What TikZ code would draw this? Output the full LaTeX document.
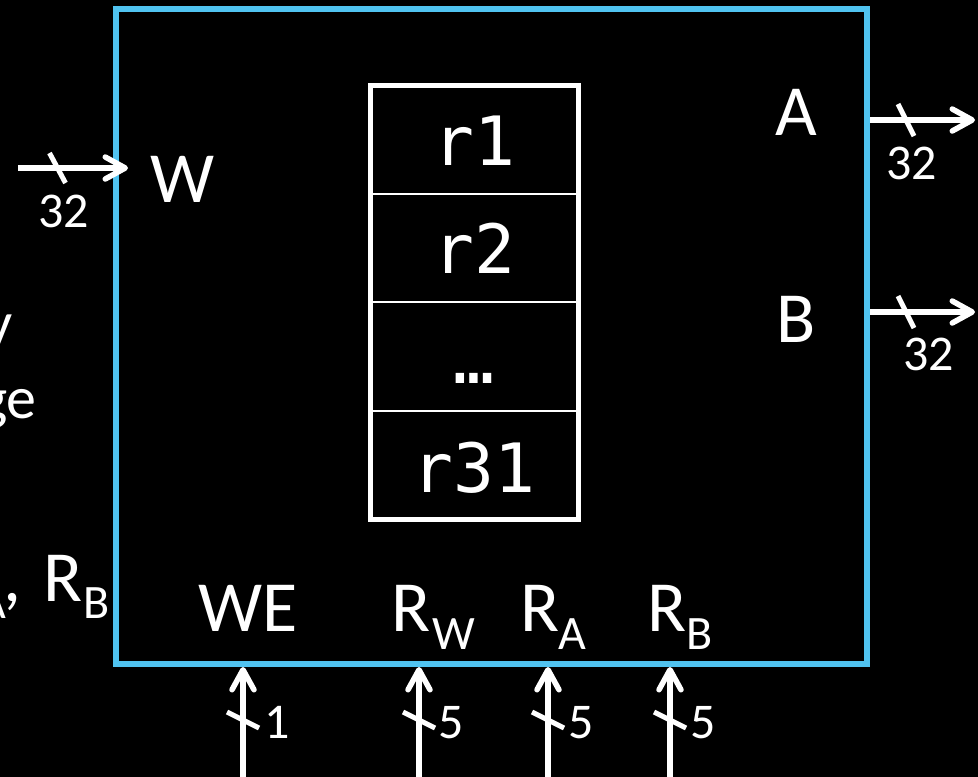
\documentclass[tikz,border=0pt]{standalone}
\usepackage{fontspec}
\setmainfont{Carlito}
\newfontfamily\regmono{DejaVu Sans Mono}
\usetikzlibrary{arrows.meta}
\definecolor{boxcyan}{RGB}{80,195,240}
\begin{document}
\begin{tikzpicture}[x=1pt,y=-1pt,
  lbl/.style={text=white,inner sep=0,font=\fontsize{72}{80}\selectfont},
  sublbl/.style={text=white,inner sep=0,font=\fontsize{48}{56}\selectfont},
  bodytxt/.style={text=white,inner sep=0,font=\fontsize{60}{66}\selectfont},
  num/.style={text=white,inner sep=0,font=\fontsize{50}{56}\selectfont},
  regtxt/.style={text=white,inner sep=0,font=\regmono\fontsize{68}{74}\selectfont},
  cell/.style={draw=white,line width=2,minimum width=208,minimum height=108.625,inner sep=0},
  sig/.style={draw=white,line width=5.5,-{Straight Barb[length=20pt,width=22pt,round]}},
  busmark/.style={draw=white,line width=5},
]
\useasboundingbox (0,0) rectangle (978,777);
\fill[black] (0,0) rectangle (978,777);
\clip (0,0) rectangle (978,777);

% partial slide text on the left
\node[bodytxt,anchor=base east] (fragY) at (13,343) {y};
\node[bodytxt,anchor=base east] (fragGe) at (37,418) {ge};
\node[sublbl,anchor=base east] (fragA) at (6,618) {A};
\node[lbl,anchor=base west] (fragComma) at (3,601) {,};
\node[lbl,anchor=base west] (fragR) at (43,601) {R};
\node[sublbl,anchor=base west] (fragB) at (83,618) {B};

% register file outline
\node[draw=boxcyan,line width=6,minimum width=751,minimum height=655,inner sep=0] (rf) at (491.5,336.5) {};

% registers
\node[cell] (c1) at (474,139.31) {};
\node[cell] (c2) at (474,247.94) {};
\node[cell] (c3) at (474,356.56) {};
\node[cell] (c4) at (474,465.19) {};
\node[draw=white,line width=5,minimum width=208,minimum height=434.5,inner sep=0] (regs) at (474,302.25) {};
\node[regtxt,anchor=base] (t1) at (474,165) {r1};
\node[regtxt,anchor=base] (t2) at (474,273) {r2};
\node[regtxt,anchor=base] (t3) at (474,383) {…};
\node[regtxt,anchor=base] (t4) at (474,492) {r31};

% port labels
\node[lbl,anchor=base west] (lW) at (150,202) {W};
\node[lbl,anchor=base] (lA) at (796,135) {A};
\node[lbl,anchor=base] (lB) at (796,342) {B};
\node[lbl,anchor=base west] (lWE) at (198,631) {WE};
\node[lbl,anchor=base west] (lRw) at (391,631) {R};
\node[sublbl,anchor=base west] (lRwS) at (432,649) {W};
\node[lbl,anchor=base west] (lRa) at (520,631) {R};
\node[sublbl,anchor=base west] (lRaS) at (558,649) {A};
\node[lbl,anchor=base west] (lRb) at (647,631) {R};
\node[sublbl,anchor=base west] (lRbS) at (686,649) {B};

% signal end points
\coordinate (wIn) at (18,168);
\coordinate (wTip) at (128,168);
\coordinate (aOut) at (975,120);
\coordinate (bOut) at (975,312);
\coordinate (weIn) at (243,780);
\coordinate (rwIn) at (419,780);
\coordinate (raIn) at (548,780);
\coordinate (rbIn) at (670,780);

% signals
\draw[sig] (wIn) -- (wTip);
\draw[sig] (rf.east |- aOut) -- (aOut);
\draw[sig] (rf.east |- bOut) -- (bOut);
\draw[sig] (weIn) -- (weIn |- rf.south);
\draw[sig] (rwIn) -- (rwIn |- rf.south);
\draw[sig] (raIn) -- (raIn |- rf.south);
\draw[sig] (rbIn) -- (rbIn |- rf.south);

% bus width marks
\coordinate (mW) at (57.5,168);
\coordinate (mA) at (906,120);
\coordinate (mB) at (906,312);
\coordinate (mWE) at (243,720);
\coordinate (mRw) at (419,720);
\coordinate (mRa) at (548,720);
\coordinate (mRb) at (670,720);
\draw[busmark] (mW) ++(-8,-15) -- ++(16,30);
\draw[busmark] (mA) ++(-8,-16) -- ++(16,32);
\draw[busmark] (mB) ++(-8,-16) -- ++(16,32);
\draw[busmark] (mWE) ++(-16,-8) -- ++(32,16);
\draw[busmark] (mRw) ++(-16,-8) -- ++(32,16);
\draw[busmark] (mRa) ++(-16,-8) -- ++(32,16);
\draw[busmark] (mRb) ++(-16,-8) -- ++(32,16);

% bus widths
\node[num,anchor=base west] (nW) at (38,227) {32};
\node[num,anchor=base west] (nA) at (886,179) {32};
\node[num,anchor=base west] (nB) at (903,370) {32};
\node[num,anchor=base west] (nWE) at (264,738) {1};
\node[num,anchor=base west] (nRw) at (438,738) {5};
\node[num,anchor=base west] (nRa) at (568,738) {5};
\node[num,anchor=base west] (nRb) at (690,738) {5};
\end{tikzpicture}
\end{document}
